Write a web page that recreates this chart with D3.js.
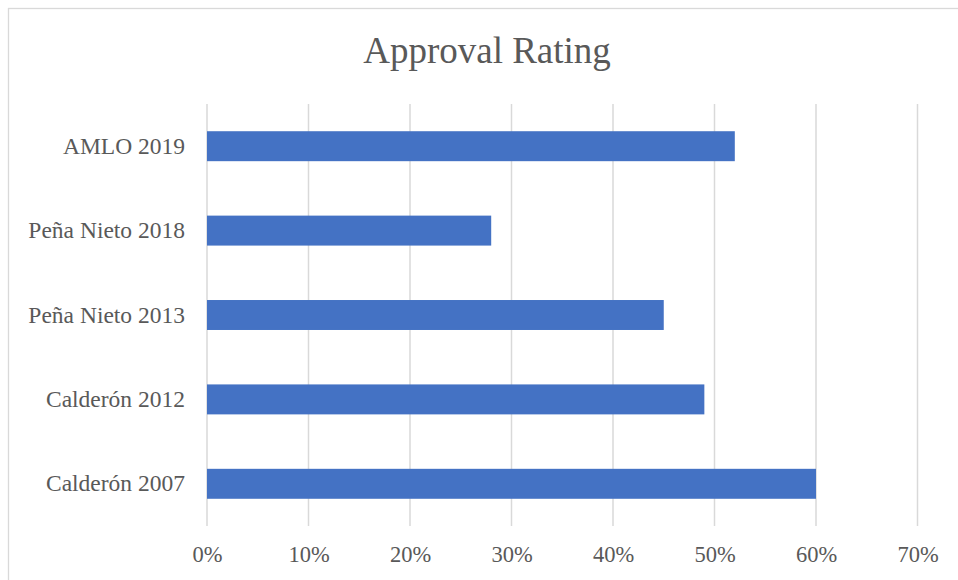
<!DOCTYPE html>
<html>
<head>
<meta charset="utf-8">
<script src="https://cdn.jsdelivr.net/npm/d3@7"></script>
<style>
  body { margin: 0; background: #fff; }
</style>
</head>
<body>
<div id="chart"></div>
<script>
// chart data
const categories = ["AMLO 2019", "Peña Nieto 2018", "Peña Nieto 2013", "Calderón 2012", "Calderón 2007"];
const approval = [0.52, 0.28, 0.45, 0.49, 0.60];
const xTicks = [0, 0.1, 0.2, 0.3, 0.4, 0.5, 0.6, 0.7];
const title = "Approval Rating";

const width = 958, height = 580;
const margin = {top: 104, right: 40, bottom: 54, left: 207};
const plotW = 917.5 - margin.left;
const plotH = 526 - margin.top;
const textColor = "#595959";
const font = "'Liberation Serif', 'Times New Roman', serif";

let svg = d3.select("#chart")
  .append("svg")
  .attr("width", width)
  .attr("height", height)
  .style("background-color", "#fff");

// outer chart border (only top/left visible in the crop)
svg.append("rect")
  .attr("x", 8.5).attr("y", 8.5)
  .attr("width", width + 20).attr("height", height + 20)
  .attr("fill", "none")
  .attr("stroke", "#d9d9d9")
  .attr("stroke-width", 1.3);

// title
svg.append("text")
  .attr("x", 487)
  .attr("y", 63)
  .attr("text-anchor", "middle")
  .attr("font-family", font)
  .attr("font-size", 37)
  .attr("fill", textColor)
  .text(title);

let g = svg.append("g")
  .attr("transform", "translate(" + margin.left + "," + margin.top + ")");

let xScale = d3.scaleLinear()
  .domain([0, 0.7])
  .range([0, plotW]);

let yScale = d3.scaleBand()
  .domain(categories)
  .range([0, plotH])
  .paddingInner(0.645)
  .paddingOuter(0.3225);

// gridlines
g.selectAll(".grid")
  .data(xTicks)
  .join("line")
  .attr("class", "grid")
  .attr("x1", d => xScale(d)).attr("x2", d => xScale(d))
  .attr("y1", 0).attr("y2", plotH)
  .attr("stroke", "#d9d9d9")
  .attr("stroke-width", 1.5);

// bars
g.selectAll(".bar")
  .data(categories)
  .join("rect")
  .attr("class", "bar")
  .attr("x", xScale(0))
  .attr("y", d => yScale(d))
  .attr("width", (d, i) => xScale(approval[i]) - xScale(0))
  .attr("height", yScale.bandwidth())
  .attr("fill", "#4472c4");

// x axis labels
let xAxis = g.append("g")
  .attr("transform", "translate(0," + plotH + ")")
  .call(d3.axisBottom(xScale).tickValues(xTicks).tickFormat(d3.format(".0%")).tickSize(0).tickPadding(20));
xAxis.select(".domain").remove();
xAxis.selectAll("text")
  .attr("font-family", font)
  .attr("font-size", 22.5)
  .attr("fill", textColor);

// y axis labels
let yAxis = g.append("g")
  .call(d3.axisLeft(yScale).tickSize(0).tickPadding(22));
yAxis.select(".domain").remove();
yAxis.selectAll("text")
  .attr("font-family", font)
  .attr("font-size", 23.5)
  .attr("fill", textColor);
</script>
</body>
</html>
